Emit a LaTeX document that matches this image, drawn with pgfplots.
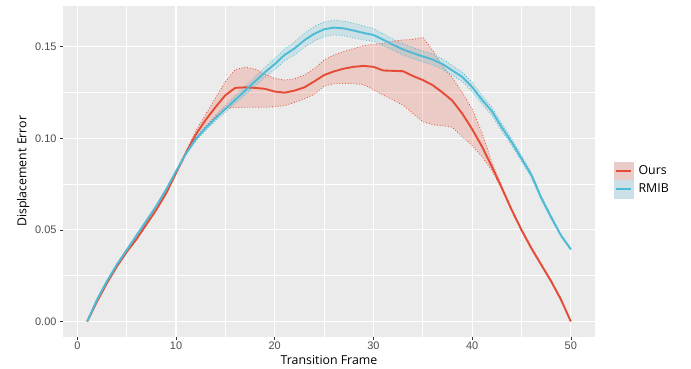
\documentclass[border=0pt]{standalone}
\usepackage{pgfplots}
\usepackage{pgfplotstable}
\pgfplotsset{compat=1.18}
\usepgfplotslibrary{fillbetween}
\usepackage{fontspec}
\setmainfont{Open Sans}
\newfontfamily\tickfont{Liberation Sans}
\definecolor{ours}{HTML}{E64B35}
\definecolor{rmib}{HTML}{4DBBD5}
\definecolor{panel}{RGB}{235,235,235}
\definecolor{ticktext}{RGB}{77,77,77}
\definecolor{tickcol}{RGB}{51,51,51}

\pgfplotstableread{
x m lo hi
1 0 0 0
2 0.011 0.0105 0.0115
3 0.021 0.0205 0.0215
4 0.030 0.0295 0.0305
5 0.038 0.0375 0.0385
6 0.045 0.0445 0.0455
7 0.053 0.0525 0.0535
8 0.061 0.0605 0.0615
9 0.070 0.0695 0.0705
10 0.081 0.0805 0.0815
11 0.092 0.0912 0.0928
12 0.102 0.1 0.104
13 0.110 0.1065 0.113
14 0.117 0.112 0.122
15 0.1235 0.1164 0.1309
16 0.1275 0.1168 0.1375
17 0.1278 0.1169 0.1388
18 0.1275 0.1169 0.1378
19 0.127 0.1169 0.135
20 0.1255 0.1172 0.1327
21 0.1249 0.1178 0.1318
22 0.126 0.1195 0.1325
23 0.1278 0.1215 0.1345
24 0.131 0.124 0.138
25 0.1345 0.1285 0.1427
26 0.1365 0.1298 0.1455
27 0.138 0.130 0.1473
28 0.139 0.1298 0.149
29 0.1395 0.1293 0.1505
30 0.139 0.1265 0.1513
31 0.137 0.1235 0.1518
32 0.1368 0.121 0.153
33 0.1366 0.118 0.1537
34 0.134 0.1136 0.154
35 0.1318 0.109 0.1551
36 0.129 0.1075 0.148
37 0.125 0.1068 0.1393
38 0.1205 0.106 0.133
39 0.1135 0.101 0.125
40 0.105 0.096 0.116
41 0.0955 0.090 0.103
42 0.0845 0.0825 0.087
43 0.073 0.0722 0.0738
44 0.061 0.0605 0.0615
45 0.050 0.0495 0.0505
46 0.040 0.0395 0.0405
47 0.031 0.0305 0.0315
48 0.022 0.0215 0.0225
49 0.012 0.0115 0.0125
50 0 0 0
}\oursdata

\pgfplotstableread{
x m hw
1 0 0
2 0.012 0.0003
3 0.022 0.0003
4 0.031 0.0003
5 0.039 0.0003
6 0.047 0.0003
7 0.055 0.0003
8 0.063 0.0003
9 0.072 0.0004
10 0.082 0.0004
11 0.0915 0.0005
12 0.0995 0.001
13 0.1055 0.0012
14 0.111 0.0015
15 0.116 0.0018
16 0.121 0.002
17 0.126 0.0022
18 0.131 0.0025
19 0.136 0.0028
20 0.1405 0.003
21 0.1455 0.0032
22 0.149 0.0035
23 0.1535 0.0038
24 0.157 0.004
25 0.1595 0.004
26 0.1604 0.004
27 0.160 0.004
28 0.1588 0.004
29 0.1575 0.0038
30 0.1564 0.0035
31 0.1538 0.0032
32 0.151 0.003
33 0.1485 0.003
34 0.1465 0.003
35 0.1447 0.003
36 0.143 0.003
37 0.1405 0.0028
38 0.137 0.0027
39 0.1335 0.0026
40 0.128 0.0025
41 0.121 0.0023
42 0.1148 0.0022
43 0.106 0.002
44 0.098 0.0018
45 0.089 0.0016
46 0.080 0.0014
47 0.0675 0.0012
48 0.057 0.001
49 0.047 0.0007
50 0.0394 0.0004
}\rmibdata

\begin{document}
\begin{tikzpicture}
\begin{axis}[
  at={(63bp,32.3bp)}, anchor=south west,
  scale only axis, width=532bp, height=330.7bp,
  xmin=-1.45, xmax=52.45, ymin=-0.0083, ymax=0.1722,
  axis background/.style={fill=panel},
  axis line style={draw=none},
  xtick={0,10,...,50}, ytick={0,0.05,0.1,0.15},
  minor xtick={5,15,25,35,45}, minor ytick={0.025,0.075,0.125},
  grid=both,
  major grid style={white, line width=1.1bp},
  minor grid style={white, line width=0.55bp},
  tick align=outside, tick pos=left,
  major tick length=3bp, minor tick length=0pt,
  major tick style={tickcol, line width=0.6bp},
  scaled y ticks=false,
  yticklabel style={/pgf/number format/fixed, /pgf/number format/fixed zerofill, /pgf/number format/precision=2},
  /pgf/number format/assume math mode=true,
  ticklabel style={font=\tickfont\fontsize{11}{13}\selectfont, text=ticktext},
  xticklabel style={yshift=1bp},
  xlabel={Transition Frame}, ylabel={Displacement Error},
  label style={font=\fontsize{12.4}{14}\selectfont},
  xlabel style={yshift=1.5bp},
  ylabel style={yshift=-1bp},
  legend style={at={(1.0357,0.474)}, anchor=west, draw=none, fill=none,
    font=\fontsize{12.4}{14}\selectfont, row sep=0pt, inner sep=0pt},
  legend cell align=left,
]
% bands
\addplot[ours, dash pattern=on 0.8bp off 2bp, line width=0.8bp, name path=oHi, forget plot] table[x=x,y=hi]{\oursdata};
\addplot[ours, dash pattern=on 0.8bp off 2bp, line width=0.8bp, name path=oLo, forget plot] table[x=x,y=lo]{\oursdata};
\addplot[ours, fill opacity=0.2, draw=none, forget plot] fill between[of=oHi and oLo];
\addplot[rmib, dash pattern=on 0.8bp off 2bp, line width=0.8bp, name path=rHi, forget plot] table[x=x,y expr=\thisrow{m}+\thisrow{hw}]{\rmibdata};
\addplot[rmib, dash pattern=on 0.8bp off 2bp, line width=0.8bp, name path=rLo, forget plot] table[x=x,y expr=\thisrow{m}-\thisrow{hw}]{\rmibdata};
\addplot[rmib, fill opacity=0.2, draw=none, forget plot] fill between[of=rHi and rLo];
% means
\addplot[ours, line width=1.9bp, forget plot] table[x=x,y=m]{\oursdata};
\addplot[rmib, line width=1.9bp, forget plot] table[x=x,y=m]{\rmibdata};
% legend
\addlegendimage{legend image code/.code={\fill[ours!20!panel] (0bp,-9bp) rectangle (19bp,9bp); \draw[ours, line width=1.9bp] (2bp,0bp) -- (17bp,0bp);}}
\addlegendentry{\hspace{3bp}Ours}
\addlegendimage{legend image code/.code={\fill[rmib!20!panel] (0bp,-9bp) rectangle (19bp,9bp); \draw[rmib, line width=1.9bp] (2bp,0bp) -- (17bp,0bp);}}
\addlegendentry{\hspace{3bp}RMIB}
\end{axis}
\pgfresetboundingbox
\path[use as bounding box] (0bp,0bp) rectangle (691bp,369bp);
\end{tikzpicture}
\end{document}
